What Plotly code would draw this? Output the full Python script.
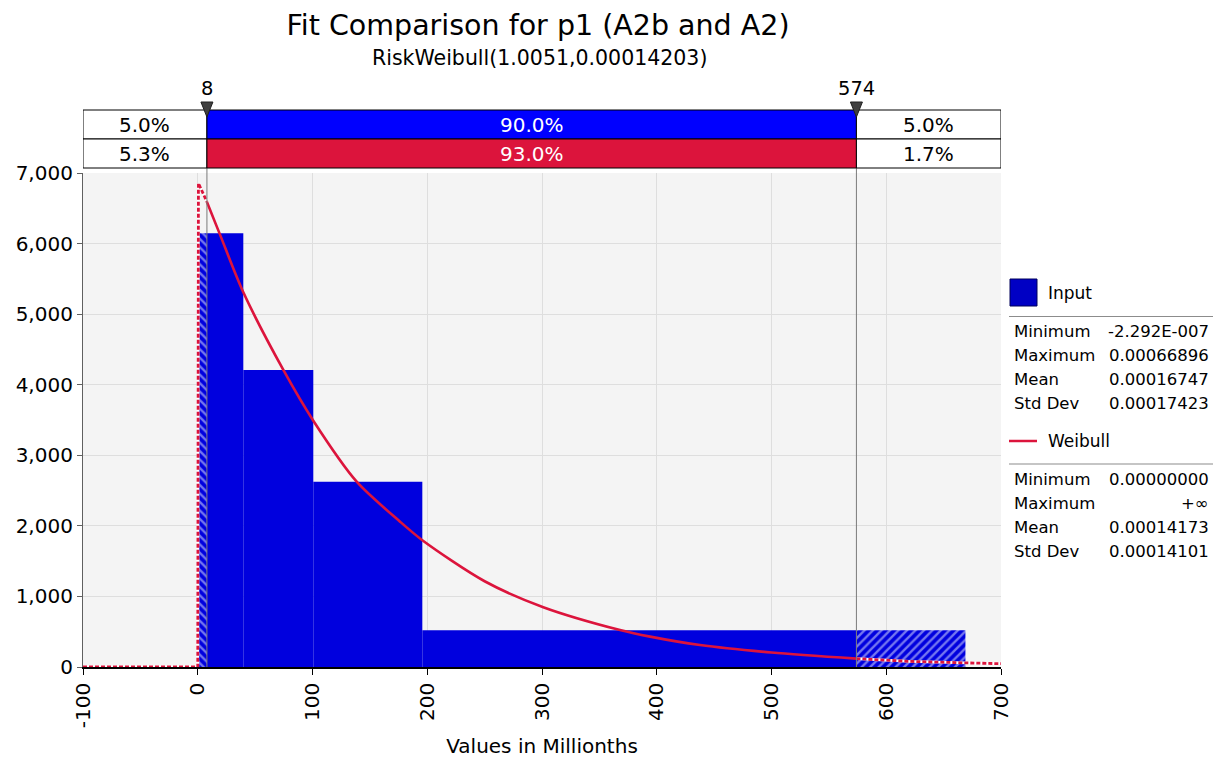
import plotly.graph_objects as go

# ---------------- data ----------------
bin_edges = [-0.23, 39.7, 100.7, 195.7, 669.0]
bin_heights = [6145, 4209, 2626, 520]

delim_left = 8
delim_right = 574
delim_labels = ["8", "574"]

input_pcts = ["5.0%", "90.0%", "5.0%"]
fit_pcts = ["5.3%", "93.0%", "1.7%"]

curve_x = [-100, 0, 0.6, 8, 19.4, 39.7, 74.6, 100.7, 138.5, 176.3, 196.6,
           250, 301.1, 368, 394.2, 437.7, 500, 574, 620, 670, 700]
curve_y = [0, 0, 6855, 6590, 6127, 5310, 4209, 3490, 2626, 2059, 1785,
           1215, 848, 524, 430, 311, 205, 118, 80, 58, 47]

x_range = [-100, 700]
x_ticks = [-100, 0, 100, 200, 300, 400, 500, 600, 700]
x_tick_labels = ["-100", "0", "100", "200", "300", "400", "500", "600", "700"]
y_range = [0, 7000]
y_ticks = [0, 1000, 2000, 3000, 4000, 5000, 6000, 7000]
y_tick_labels = ["0", "1,000", "2,000", "3,000", "4,000", "5,000", "6,000", "7,000"]

input_stats_labels = ["Minimum", "Maximum", "Mean", "Std Dev"]
input_stats_values = ["-2.292E-007", "0.00066896", "0.00016747", "0.00017423"]
fit_stats_labels = ["Minimum", "Maximum", "Mean", "Std Dev"]
fit_stats_values = ["0.00000000", "+\u221e", "0.00014173", "0.00014101"]

title_text = "Fit Comparison for p1 (A2b and A2)"
subtitle_text = "RiskWeibull(1.0051,0.00014203)"
x_title = "Values in Millionths"

# ---------------- styling ----------------
FONT = "DejaVu Sans"
BLUE_BAR = "#0000DE"
BLUE_TOP = "#0000FF"
RED = "#DC143C"
W, H = 1217, 758
ML, MR, MT, MB = 83, 216, 173, 91
PW, PH = W - ML - MR, H - MT - MB


def px2x(px):
    return (px - ML) / PW


def px2y(py):
    return (H - MB - py) / PH


# ---------------- histogram pieces ----------------
solid, hatch_l, hatch_r = [], [], []
for i, h in enumerate(bin_heights):
    lo, hi = bin_edges[i], bin_edges[i + 1]
    cuts = [lo] + [c for c in (delim_left, delim_right) if lo < c < hi] + [hi]
    for a, b in zip(cuts[:-1], cuts[1:]):
        piece = ((a + b) / 2, b - a, h)
        if b <= delim_left:
            hatch_l.append(piece)
        elif a >= delim_right:
            hatch_r.append(piece)
        else:
            solid.append(piece)

fig = go.Figure()


def add_bars(pieces, pattern=None):
    if not pieces:
        return
    marker = dict(color=BLUE_BAR, line=dict(color=BLUE_BAR, width=0))
    if pattern:
        marker["pattern"] = dict(shape=pattern, fgcolor="#E8ECFF",
                                 bgcolor=BLUE_BAR, size=6, solidity=0.4)
    fig.add_trace(go.Bar(
        x=[p[0] for p in pieces], width=[p[1] for p in pieces],
        y=[p[2] for p in pieces], marker=marker, showlegend=False,
        hoverinfo="skip"))


add_bars(solid)
add_bars(hatch_l, "\\")
add_bars(hatch_r, "/")

# ---------------- fitted curve ----------------
seg_left = [(x, y) for x, y in zip(curve_x, curve_y) if x <= delim_left]
seg_mid = [(x, y) for x, y in zip(curve_x, curve_y) if delim_left <= x <= delim_right]
seg_right = [(x, y) for x, y in zip(curve_x, curve_y) if x >= delim_right]

for seg in (seg_left, seg_right):
    fig.add_trace(go.Scatter(x=[p[0] for p in seg], y=[p[1] for p in seg],
                             mode="lines", line=dict(color="white", width=2.8),
                             showlegend=False, hoverinfo="skip", cliponaxis=False))
    fig.add_trace(go.Scatter(x=[p[0] for p in seg], y=[p[1] for p in seg],
                             mode="lines",
                             line=dict(color=RED, width=2.8, dash="4px,2px"),
                             showlegend=False, hoverinfo="skip", cliponaxis=False))
fig.add_trace(go.Scatter(x=[p[0] for p in seg_mid], y=[p[1] for p in seg_mid],
                         mode="lines", line=dict(color=RED, width=2.6,
                                                 shape="spline", smoothing=0.8),
                         showlegend=False, hoverinfo="skip"))

shapes = []
annotations = []

# vertical delimiter lines
for d in (delim_left, delim_right):
    shapes.append(dict(type="line", xref="x", yref="paper", x0=d, x1=d,
                       y0=0, y1=px2y(110), line=dict(color="#7A7A7A", width=1),
                       layer="above"))

# delimiter boxes (two rows)
row_edges = [(px2y(110), px2y(139)), (px2y(139), px2y(168))]
row_fill = [BLUE_TOP, RED]
row_texts = [input_pcts, fit_pcts]
segments = [(x_range[0], delim_left), (delim_left, delim_right), (delim_right, x_range[1])]
for r in range(2):
    ytop, ybot = row_edges[r]
    for k, (a, b) in enumerate(segments):
        fill = row_fill[r] if k == 1 else "white"
        shapes.append(dict(type="rect", xref="x", yref="paper", x0=a, x1=b,
                           y0=ybot, y1=ytop, fillcolor=fill,
                           line=dict(color="black", width=1), layer="above"))
        annotations.append(dict(xref="x", yref="paper", x=(a + b) / 2,
                                y=(ytop + ybot) / 2, text=row_texts[r][k],
                                showarrow=False, xanchor="center", yanchor="middle",
                                font=dict(family=FONT, size=20,
                                          color="white" if k == 1 else "black")))

# triangles + delimiter labels
for d, lab in zip((delim_left, delim_right), delim_labels):
    shapes.append(dict(type="path", xref="x", yref="paper", xsizemode="pixel",
                       ysizemode="pixel", xanchor=d, yanchor=px2y(110),
                       path="M -6,8 L 6,8 L 0,-7 Z", fillcolor="#404040",
                       line=dict(color="#202020", width=1), layer="above"))
    annotations.append(dict(xref="x", yref="paper", x=d, y=px2y(88), text=lab,
                            showarrow=False, xanchor="center", yanchor="middle",
                            font=dict(family=FONT, size=19.5, color="black")))

# subtitle
annotations.append(dict(xref="paper", yref="paper", x=px2x(539), y=px2y(58),
                        text=subtitle_text, showarrow=False, xanchor="center",
                        yanchor="middle", font=dict(family=FONT, size=20.5, color="black")))

# ---------------- custom legend panel ----------------
LX0, LX1 = 1009, 1213
shapes.append(dict(type="rect", xref="paper", yref="paper", x0=px2x(1010), x1=px2x(1037),
                   y0=px2y(306), y1=px2y(279), fillcolor="#0000C4",
                   line=dict(color="#00005A", width=1)))
annotations.append(dict(xref="paper", yref="paper", x=px2x(1046), y=px2y(293),
                        text="Input", showarrow=False, xanchor="left", yanchor="middle",
                        font=dict(family=FONT, size=17, color="black")))
shapes.append(dict(type="line", xref="paper", yref="paper", x0=px2x(LX0), x1=px2x(LX1),
                   y0=px2y(316.5), y1=px2y(316.5), line=dict(color="#8C8C8C", width=1.2)))
shapes.append(dict(type="line", xref="paper", yref="paper", x0=px2x(1009), x1=px2x(1037),
                   y0=px2y(441), y1=px2y(441), line=dict(color=RED, width=2.5)))
annotations.append(dict(xref="paper", yref="paper", x=px2x(1046), y=px2y(441),
                        text="Weibull", showarrow=False, xanchor="left", yanchor="middle",
                        font=dict(family=FONT, size=17, color="black")))
shapes.append(dict(type="line", xref="paper", yref="paper", x0=px2x(LX0), x1=px2x(LX1),
                   y0=px2y(464), y1=px2y(464), line=dict(color="#8C8C8C", width=1.2)))

for labels, values, y0 in ((input_stats_labels, input_stats_values, 331.5),
                           (fit_stats_labels, fit_stats_values, 479.5)):
    for j, (lab, val) in enumerate(zip(labels, values)):
        yy = px2y(y0 + 24 * j)
        annotations.append(dict(xref="paper", yref="paper", x=px2x(1012), y=yy,
                                text=lab, showarrow=False, xanchor="left",
                                yanchor="middle",
                                font=dict(family=FONT, size=16.5, color="black")))
        annotations.append(dict(xref="paper", yref="paper", x=px2x(1211), y=yy,
                                text=val, showarrow=False, xanchor="right",
                                yanchor="middle",
                                font=dict(family=FONT, size=16.5, color="black")))

fig.update_layout(
    width=W, height=H,
    margin=dict(l=ML, r=MR, t=MT, b=MB, pad=0, autoexpand=False),
    paper_bgcolor="white", plot_bgcolor="#F4F4F4",
    barmode="overlay", showlegend=False,
    font=dict(family=FONT, color="black"),
    title=dict(text=title_text, x=px2x(538), xref="paper", xanchor="center",
               y=1 - 25 / H, yref="container", yanchor="middle",
               font=dict(family=FONT, size=28.5, color="black")),
    xaxis=dict(range=x_range, tickvals=x_ticks, ticktext=x_tick_labels, tickangle=-90,
               ticks="outside", ticklen=6, tickcolor="black", showline=True,
               linecolor="black", linewidth=1.5, showgrid=True, automargin=False,
               gridcolor="#DEDEDE", gridwidth=1, zeroline=False,
               tickfont=dict(family=FONT, size=20),
               title=dict(text=x_title, font=dict(family=FONT, size=20), standoff=12)),
    yaxis=dict(range=y_range, tickvals=y_ticks, ticktext=y_tick_labels,
               ticks="outside", ticklen=5, tickcolor="#606060", showline=True,
               linecolor="#606060", linewidth=1.2, showgrid=True, automargin=False,
               gridcolor="#DEDEDE", gridwidth=1, zeroline=False,
               tickfont=dict(family=FONT, size=20)),
    shapes=shapes, annotations=annotations,
)

fig.write_html("out.html",
               config={"displayModeBar": False},
               post_script="document.body.style.margin='0px';"
                           "document.body.style.overflow='hidden';")
